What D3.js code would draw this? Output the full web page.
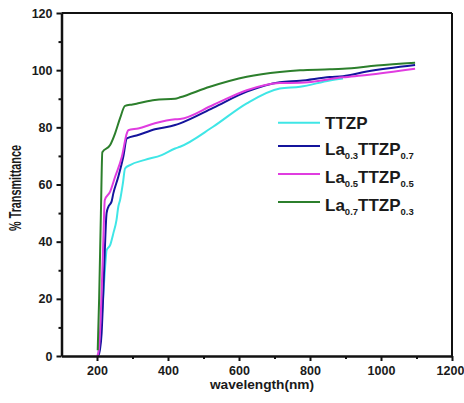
<!DOCTYPE html>
<html><head><meta charset="utf-8">
<script src="https://cdn.jsdelivr.net/npm/d3@7"></script>
<style>
html,body{margin:0;padding:0;background:#fff;}
text{font-family:"Liberation Sans",Arial,sans-serif;font-weight:bold;fill:#1a1a1a;}
</style></head>
<body><svg id="c" width="464" height="403"></svg>
<script>
// ---- data ----
const seriesNames = ["TTZP", "La0.3TTZP0.7", "La0.5TTZP0.5", "La0.7TTZP0.3"];
const ttzpWave = [203,210,218,224,227,237,246,255,260,265,273,279,293,335,382,420,434,527,622,715,772,856,893];
const ttzpVal  = [0,8,22,33,37,38.8,42.9,47.6,52.2,54.6,60.5,65.6,66.8,68.6,70.3,72.6,73.2,80.2,88.4,93.6,94.2,96.4,97.1];
const la3Wave = [203,208,213,217,222,227,232,241,246,260,274,284,316,363,420,434,527,622,715,772,856,893,960,1096];
const la3Val  = [0,2,8,19.6,37,50,52.2,54,56.9,62.7,69.7,76.1,77.3,79.3,80.8,81.4,86.8,92.5,95.8,96.3,97.6,97.9,99.5,101.8];
const la5Wave = [201,205,210,217,222,237,251,270,284,288,316,363,420,434,527,622,715,772,893,960,1096];
const la5Val  = [0,2,12,37,54.6,57.5,62.7,69.7,77.9,79,79.6,81.4,82.8,82.9,87.8,93,95.5,95.6,97.5,98.3,100.5];
const la7Wave = [202,206,211,215,237,251,265,279,300,316,363,420,434,518,622,715,772,856,893,988,1096];
const la7Val  = [2,20,50,71.3,73.8,77.9,83.2,87.5,88,88.4,89.6,90,90.5,94.2,97.7,99.4,100,100.3,100.5,101.6,102.6];
const xTicks = [200,400,600,800,1000,1200];
const xMinor = [300,500,700,900,1100];
const yTicks = [0,20,40,60,80,100,120];
const yMinor = [10,30,50,70,90,110];
const colors = ["#3fe6e6", "#14149c", "#e03ce0", "#2c7f2c"];

// ---- chart ----
const svg = d3.select("#c");
const x = d3.scaleLinear().domain([100,1200]).range([61.5,452]);
const y = d3.scaleLinear().domain([0,120]).range([356,13]);

const series = [
  {name:seriesNames[0], w:ttzpWave, v:ttzpVal, c:colors[0]},
  {name:seriesNames[1], w:la3Wave, v:la3Val, c:colors[1]},
  {name:seriesNames[2], w:la5Wave, v:la5Val, c:colors[2]},
  {name:seriesNames[3], w:la7Wave, v:la7Val, c:colors[3]}
];

const line = d3.line().x(d=>x(d[0])).y(d=>y(d[1])).curve(d3.curveMonotoneX);
series.forEach(s=>{
  svg.append("path").datum(s.w.map((w,i)=>[w,s.v[i]]))
    .attr("d", line).attr("fill","none").attr("stroke", s.c)
    .attr("stroke-width", 2).attr("stroke-linejoin","round");
});

// frame
svg.append("line").attr("x1",x(100)).attr("x2",x(1200)).attr("y1",y(120)).attr("y2",y(120))
  .attr("stroke","#111").attr("stroke-width",2);
svg.append("line").attr("x1",x(1200)).attr("x2",x(1200)).attr("y1",y(120)).attr("y2",y(0))
  .attr("stroke","#111").attr("stroke-width",2);

// axes
const xAxis = svg.append("g").attr("transform",`translate(0,${y(0)})`)
  .call(d3.axisBottom(x).tickValues(xTicks).tickFormat(d3.format("d")).tickSize(5).tickSizeOuter(0).tickPadding(5));
const xAxisMinor = svg.append("g").attr("transform",`translate(0,${y(0)})`)
  .call(d3.axisBottom(x).tickValues(xMinor).tickSize(3).tickSizeOuter(0).tickFormat(""));
const yAxis = svg.append("g").attr("transform",`translate(${x(100)},0)`)
  .call(d3.axisLeft(y).tickValues(yTicks).tickFormat(d3.format("d")).tickSize(5).tickSizeOuter(0).tickPadding(4));
const yAxisMinor = svg.append("g").attr("transform",`translate(${x(100)},0)`)
  .call(d3.axisLeft(y).tickValues(yMinor).tickSize(3).tickSizeOuter(0).tickFormat(""));
[xAxis,xAxisMinor,yAxis,yAxisMinor].forEach(g=>{
  g.select(".domain").attr("stroke","#111").attr("stroke-width",2.5);
  g.selectAll(".tick line").attr("stroke","#111").attr("stroke-width",2);
  g.selectAll(".tick text").attr("font-size",12.5).attr("font-family","Liberation Sans, Arial").attr("font-weight","bold").attr("fill","#1a1a1a");
});
xAxis.selectAll(".tick text").filter(d=>d===1200).attr("dx",-2);
xAxisMinor.select(".domain").remove();
yAxisMinor.select(".domain").remove();

// axis titles
svg.append("text").attr("x",262).attr("y",389).attr("text-anchor","middle")
  .attr("font-size",13.7).text("wavelength(nm)");
svg.append("text").attr("transform","translate(20.5,231) rotate(-90)").attr("text-anchor","start")
  .attr("font-size",16.5).attr("textLength",86).attr("lengthAdjust","spacingAndGlyphs")
  .text("% Transmittance");

// legend
const legendRows = [122.7, 146, 174, 202];
const labelParts = [
  [["TTZP",false]],
  [["La",false],["0.3",true],["TTZP",false],["0.7",true]],
  [["La",false],["0.5",true],["TTZP",false],["0.5",true]],
  [["La",false],["0.7",true],["TTZP",false],["0.3",true]]
];
series.forEach((s,i)=>{
  const ly = legendRows[i];
  svg.append("line").attr("x1",278).attr("x2",320).attr("y1",ly).attr("y2",ly)
    .attr("stroke",s.c).attr("stroke-width",2);
  const t = svg.append("text").attr("x",325).attr("y", ly + (i===0?6.6:9.3)).attr("font-size",17);
  let sub=false;
  labelParts[i].forEach(p=>{
    const ts = t.append("tspan").text(p[0]);
    if(p[1]){ ts.attr("font-size",9.5).attr("dy", sub?0:3.5); sub=true; }
    else if(sub){ ts.attr("dy",-3.5); sub=false; }
  });
});
</script></body></html>
